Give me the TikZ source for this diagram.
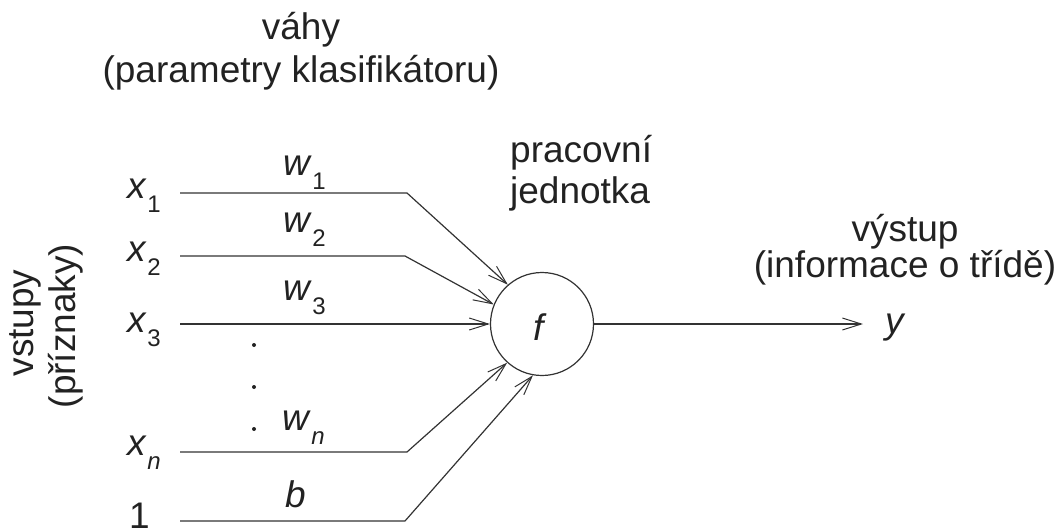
\documentclass[tikz,border=0pt]{standalone}
\usepackage{fontspec}
\setmainfont{Liberation Sans}
\usetikzlibrary{arrows.meta}

% italic symbol with a lowered, smaller index
\newcommand{\symidx}[2]{\textit{#1}\hspace{0.5pt}\raisebox{-14pt}{\fontsize{24}{24}\selectfont #2}}

\definecolor{ink}{HTML}{222222}
\definecolor{wire}{HTML}{333333}

\begin{document}
\begin{tikzpicture}[x=1pt,y=-1pt,
  every node/.style={font=\fontsize{37}{43}\selectfont, inner sep=0pt, text=ink},
  lbl/.style={anchor=base west},
  ctr/.style={anchor=base},
  vert/.style={anchor=base, rotate=90},
  link/.style={draw=wire, line width=1.2pt, line join=round},
  tip/.style={-{Straight Barb[length=19pt,width=12pt,line width=1pt]}},
  unit/.style={circle, draw=wire, line width=1.2pt, minimum size=103pt},
  dotmark/.style={circle, fill=ink, minimum size=4pt}
]
\useasboundingbox (0,0) rectangle (1061,530);

% headings
\node[ctr] (wt)  at (301,39)  {váhy};
\node[ctr] (wt2) at (301,82)  {(parametry klasifikátoru)};
\node[lbl] (pu)  at (510,162) {pracovní};
\node[lbl] (pu2) at (510,203) {jednotka};
\node[ctr] (out)  at (905,241) {výstup};
\node[ctr] (out2) at (905,277) {(informace o třídě)};
\node[vert] (in)  at (33,323) {vstupy};
\node[vert] (in2) at (75,326) {(příznaky)};

% processing unit
\node[unit] (f) at (542,324) {};
\node[font=\fontsize{37}{43}\selectfont\itshape] (fl) at (539,327) {f};

% inputs
\node[lbl] (x1) at (127,198) {\symidx{x}{1}};
\node[lbl] (x2) at (127,261) {\symidx{x}{2}};
\node[lbl] (x3) at (127,332) {\symidx{x}{3}};
\node[lbl] (xn) at (127,455) {\symidx{x}{\textit{n}}};
\node[lbl] (one) at (129,528) {1};

% weights
\node[lbl] (w1) at (283,175) {\symidx{w}{1}};
\node[lbl] (w2) at (283,232) {\symidx{w}{2}};
\node[lbl] (w3) at (283,300) {\symidx{w}{3}};
\node[lbl] (wn) at (282,430) {\symidx{w}{\textit{n}}};
\node[lbl] (b)  at (285,507) {\textit{b}};

% ellipsis between the third and the last input
\node[dotmark] (d1) at (254,345) {};
\node[dotmark] (d2) at (254,387) {};
\node[dotmark] (d3) at (254,429) {};

% wire start and bend points
\coordinate (s1) at (180,193); \coordinate (k1) at (407,193);
\coordinate (s2) at (180,256); \coordinate (k2) at (405,256);
\coordinate (s3) at (180,324);
\coordinate (sn) at (180,452); \coordinate (kn) at (407,452);
\coordinate (sb) at (180,521); \coordinate (kb) at (405,521);
\coordinate (yend) at (863,324);

\draw[link,tip] (s1) -- (k1) -- (f.131);
\draw[link,tip] (s2) -- (k2) -- (f.158);
\draw[link,tip] (s3) -- (f.west);
\draw[link,tip] (sn) -- (kn) -- (f.228);
\draw[link,tip] (sb) -- (kb) -- (f.260);

% output
\draw[link,tip] (f.east) -- (yend);
\node[lbl] (y) at (885,333) {\textit{y}};
\end{tikzpicture}
\end{document}
